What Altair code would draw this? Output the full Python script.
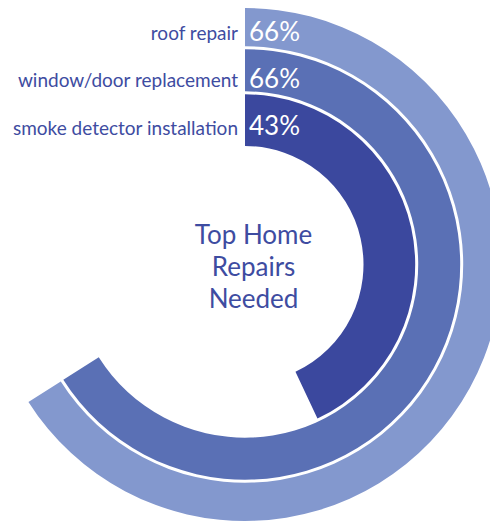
import math
import altair as alt
import pandas as pd

# ---- data ----
categories = ["roof repair", "window/door replacement", "smoke detector installation"]
values = [66, 66, 43]
ring_number = [3, 2, 1]          # ring counted from the centre outwards
title_lines = ["Top Home", "Repairs", "Needed"]

# ---- style ----
colors = ["#8398CE", "#5A70B5", "#3B489E"]
text_color = "#3E4CA1"
FONT = "Lato"

df = pd.DataFrame({"category": categories, "value": values, "ring": ring_number})
df_title = pd.DataFrame({"t": ["\n".join(title_lines)]})

base = alt.Chart(df).transform_calculate(
    start="0",
    r_in="datum.ring - 1",
    r_out="datum.ring",
    label="datum.value + '%'",
)

theta_scale = alt.Scale(domain=[0, 100], range=[0, 2 * math.pi])
radius_scale = alt.Scale(type="linear", domain=[0, 1, 2, 3], range=[117, 171.7, 216.7, 258])
label_scale = alt.Scale(type="linear", domain=[1, 3], range=[137.5, 232])

arcs = base.mark_arc(radiusOffset=-1.5, radius2Offset=1.5).encode(
    theta=alt.Theta("start:Q", scale=theta_scale),
    theta2="value:Q",
    radius=alt.Radius("r_out:Q", scale=radius_scale),
    radius2="r_in:Q",
    color=alt.Color("category:N", scale=alt.Scale(domain=categories, range=colors), legend=None),
)

pct = base.mark_text(align="left", baseline="middle", dx=4, dy=0, fontSize=26,
                     color="white", font=FONT).encode(
    theta=alt.Theta("start:Q", scale=theta_scale),
    radius=alt.Radius("ring:Q", scale=label_scale),
    text="label:N",
)

cats = base.mark_text(align="right", baseline="middle", dx=-7, dy=1.5, fontSize=19,
                      color=text_color, font=FONT).encode(
    theta=alt.Theta("start:Q", scale=theta_scale),
    radius=alt.Radius("ring:Q", scale=label_scale),
    text="category:N",
)

labels = alt.layer(pct, cats)

title = alt.Chart(df_title).mark_text(
    align="center", baseline="middle", lineBreak="\n", lineHeight=32,
    fontSize=26, color=text_color, font=FONT, dx=8.5, dy=-29,
).encode(text="t:N")

chart = alt.layer(arcs, labels, title).resolve_scale(radius="independent").properties(
    width=490, height=529,
    autosize=alt.AutoSizeParams(type="none"),
    padding=0,
).configure_view(strokeWidth=0)

chart.save("out.html", embed_options={"renderer": "svg", "actions": False})
